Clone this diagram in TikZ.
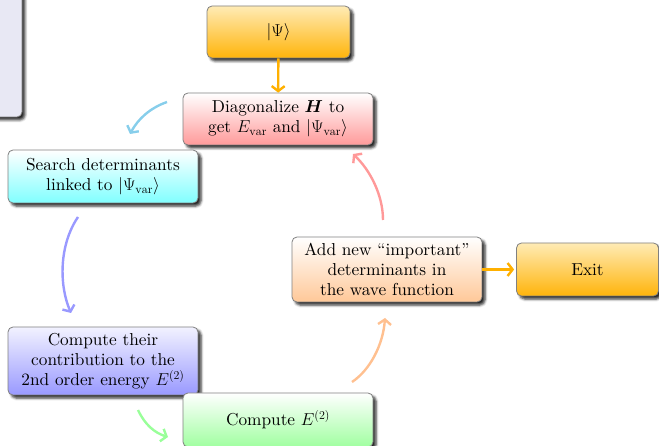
\documentclass[tikz,border=0pt]{standalone}
\usepackage{bm}
\usepackage{fontspec}
\setmainfont{lmroman10-regular.otf}
\usetikzlibrary{shadows,shadows.blur,arrows.meta}
\definecolor{orTop}{HTML}{FFEBB5}
\definecolor{orBot}{HTML}{FFB40A}
\definecolor{pkBot}{HTML}{FF9A9A}
\definecolor{cyBot}{HTML}{80FFFF}
\definecolor{vtBot}{HTML}{9999FF}
\definecolor{vtTop}{HTML}{F2F2FF}
\definecolor{gnBot}{HTML}{A0FFA0}
\definecolor{pcBot}{HTML}{FFC898}
\definecolor{lavFill}{HTML}{E8E8F4}
\definecolor{skyArr}{HTML}{87CEEB}
\definecolor{vtArr}{HTML}{9999FF}
\definecolor{gnArr}{HTML}{99FF99}
\definecolor{pcArr}{HTML}{FFC090}
\definecolor{pkArr}{HTML}{FF9999}
\definecolor{orArr}{HTML}{FFB000}
\begin{document}
\begin{tikzpicture}[x=1pt,y=-1pt,
  box/.style={draw=black!50, line width=0.8pt, rounded corners=5pt,
    blur shadow={shadow xshift=3pt, shadow yshift=-3pt, shadow blur radius=2.5pt, shadow opacity=85},
    align=center, inner sep=0pt, font=\fontsize{17.28}{20}\selectfont},
  arr/.style={line width=2.4pt, -{Straight Barb[length=5pt,width=13pt,line width=2.4pt]}},
]
\useasboundingbox (0,0) rectangle (659,446);
% partial lavender box
\node[box, fill=lavFill, minimum width=200pt, minimum height=250pt] (side) at (-78,-8) {};
\node[box, top color=orTop, bottom color=orBot, minimum width=143pt, minimum height=52pt] (psi) at (278.5,32) {$|\Psi\rangle$};
\node[box, top color=white, bottom color=pkBot, minimum width=190pt, minimum height=52pt] (diag) at (278,119) {Diagonalize $\bm{H}$ to\\get $E_{\mathrm{var}}$ and $|\Psi_{\mathrm{var}}\rangle$};
\node[box, top color=white, bottom color=cyBot, minimum width=190pt, minimum height=53pt] (search) at (103,176.5) {Search determinants\\linked to $|\Psi_{\mathrm{var}}\rangle$};
\node[box, top color=vtTop, bottom color=vtBot, minimum width=190pt, minimum height=68pt] (contrib) at (103,361) {Compute their\\contribution to the\\2nd order energy $E^{(2)}$};
\node[box, top color=white, bottom color=gnBot, minimum width=190pt, minimum height=54pt] (ctwo) at (278,420) {Compute $E^{(2)}$};
\node[box, top color=white, bottom color=pcBot, minimum width=190pt, minimum height=65pt] (add) at (387,269.5) {Add new ``important''\\determinants in\\the wave function};
\node[box, top color=orTop, bottom color=orBot, minimum width=142pt, minimum height=53pt] (exit) at (587.5,269.5) {Exit};
% arrow end points
\coordinate (s1) at (167,102); \coordinate (e1) at (130,134);
\coordinate (s2) at (78,217);  \coordinate (e2) at (71,313);
\coordinate (s3) at (138,410); \coordinate (e3) at (168,437);
\coordinate (s4) at (352,382); \coordinate (e4) at (385,318);
\coordinate (s5) at (383,220); \coordinate (e5) at (353,154);
% arrows
\draw[arr, orArr] (psi) -- (diag);
\draw[arr, orArr, shorten >=2pt] (add) -- (exit);
\draw[arr, skyArr] (s1) .. controls (150,108) and (138,119) .. (e1);
\draw[arr, vtArr] (s2) .. controls (59,245) and (59,285) .. (e2);
\draw[arr, gnArr] (s3) .. controls (145,425) and (155,433) .. (e3);
\draw[arr, pcArr] (s4) .. controls (370,370) and (383,345) .. (e4);
\draw[arr, pkArr] (s5) .. controls (383,195) and (370,170) .. (e5);
\end{tikzpicture}
\end{document}
